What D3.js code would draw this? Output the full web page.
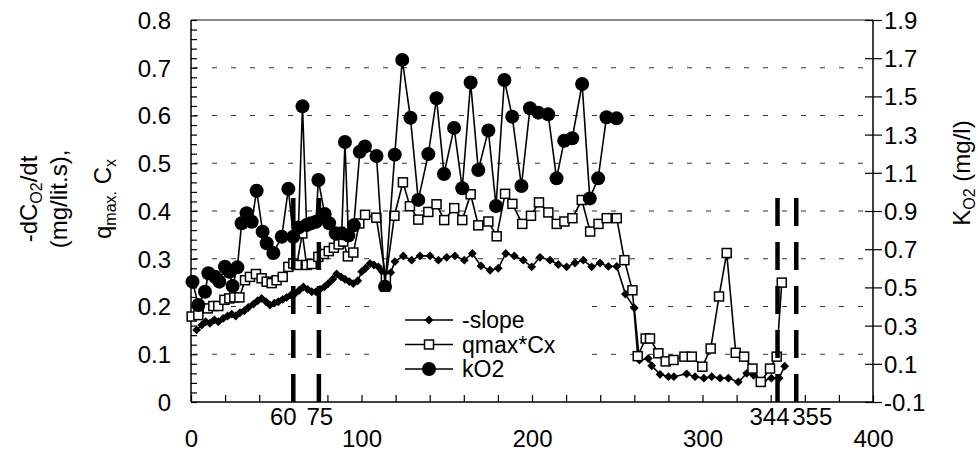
<!DOCTYPE html>
<html>
<head>
<meta charset="utf-8">
<script src="https://cdn.jsdelivr.net/npm/d3@7"></script>
<style>
  body { margin: 0; background: #fff; }
  svg { display: block; }
</style>
</head>
<body>
<div id="chart"></div>
<script>
// ---- data: [x, value] ----
const slopeData = [
  [3.3,.151],[6.3,.161],[8.6,.168],[11.1,.165],[13.7,.172],[16.0,.168],[18.9,.175],[21.5,.180],
  [23.9,.184],[26.2,.180],[28.7,.187],[31.3,.191],[33.6,.198],[36.6,.205],[39.1,.212],[41.4,.217],
  [44.0,.210],[46.3,.203],[48.9,.207],[51.2,.210],[53.8,.215],[56.1,.219],[58.6,.224],[61.0,.227],
  [63.5,.234],[65.9,.241],[68.4,.236],[70.8,.231],[73.3,.231],[75.7,.236],[78.2,.241],[80.5,.248],
  [83.1,.257],[85.4,.268],[88.0,.262],[90.3,.257],[92.9,.252],[95.2,.248],[97.8,.254],[100.1,.273],
  [102.4,.280],[105.0,.290],[107.3,.287],[109.9,.283],[112.2,.273],[114.6,.234],[117.1,.271],[119.6,.294],
  [124.5,.306],[129.4,.297],[134.3,.306],[140.2,.306],[145.1,.297],[150.0,.303],[154.8,.306],[160.3,.297],
  [165.0,.311],[170.1,.285],[175.4,.276],[180.2,.280],[184.6,.311],[189.6,.306],[194.9,.297],[199.8,.283],
  [204.7,.303],[210.6,.297],[215.4,.288],[220.3,.283],[225.2,.291],[230.1,.297],[235.0,.283],[239.9,.291],
  [244.8,.284],[249.7,.284],[254.8,.226],[260.0,.197],[263.0,.088],[268.2,.091],[270.2,.076],[275.1,.058],
  [280.0,.053],[283.2,.053],[290.7,.059],[295.6,.053],[300.8,.050],[305.4,.053],[310.3,.050],[315.2,.050],
  [321.0,.042],[325.9,.060],[330.0,.056],[335.2,.043],[340.4,.050],[344.9,.050],[348.2,.075]
];

const qmaxData = [
  [0.4,.179],[4.3,.182],[9.8,.196],[13.1,.201],[16.0,.201],[19.6,.214],[22.5,.217],[25.4,.219],
  [28.4,.219],[31.7,.255],[34.6,.262],[38.1,.268],[41.4,.259],[44.4,.252],[47.3,.249],[50.2,.255],
  [53.8,.262],[57.1,.283],[60.0,.290],[62.0,.287],[65.3,.353],[67.8,.287],[70.8,.289],[74.7,.304],
  [77.9,.310],[80.8,.316],[83.8,.323],[86.6,.330],[89.3,.336],[92.0,.305],[95.2,.313],[98.7,.374],
  [102.1,.392],[108.7,.386],[114.3,.259],[119.3,.390],[124.3,.460],[128.4,.410],[133.3,.382],[139.2,.398],
  [144.0,.414],[148.5,.381],[154.4,.406],[159.1,.381],[164.0,.435],[168.5,.370],[174.4,.378],[179.3,.347],
  [184.2,.436],[188.5,.415],[194.3,.373],[199.4,.390],[204.1,.418],[209.6,.397],[214.5,.373],[219.0,.378],
  [223.7,.385],[229.2,.423],[234.1,.357],[239.0,.373],[243.8,.385],[249.7,.385],[254.2,.297],[258.9,.234],
  [262.0,.096],[266.7,.133],[269.2,.133],[274.1,.102],[278.4,.085],[283.0,.088],[289.4,.095],[293.7,.095],
  [299.9,.074],[304.8,.112],[309.7,.221],[314.2,.312],[319.5,.103],[324.4,.095],[329.3,.070],[334.2,.042],
  [339.6,.070],[343.5,.095],[346.5,.250]
];

// kO2 is plotted against the right axis
const kO2Data = [
  [0.9,.530],[4.3,.408],[8.2,.477],[10.2,.574],[14.1,.556],[16.6,.530],[19.9,.608],[22.5,.582],
  [24.4,.507],[27.2,.605],[29.7,.836],[32.6,.888],[35.6,.844],[38.5,1.006],[42.0,.792],[44.4,.731],
  [48.3,.680],[53.2,.765],[57.1,1.016],[60.0,.765],[63.0,.814],[65.4,1.448],[67.8,.827],[70.4,.836],
  [73.3,.844],[74.7,1.062],[78.4,.884],[81.0,.836],[84.9,.783],[88.4,.783],[90.3,1.261],[92.3,.772],
  [95.5,.825],[99.0,1.210],[102.0,1.238],[108.8,1.188],[113.8,.504],[119.5,1.195],[123.9,1.691],[128.7,1.388],
  [133.3,.958],[139.2,1.198],[144.0,1.490],[148.4,1.094],[154.3,1.335],[159.1,1.019],[164.0,1.573],[168.5,1.115],
  [174.4,1.322],[178.9,.926],[183.8,1.586],[188.4,1.394],[193.8,1.031],[198.8,1.438],[203.7,1.415],[209.5,1.406],
  [214.4,1.071],[218.9,1.268],[223.6,1.281],[229.4,1.565],[233.9,.966],[238.8,1.071],[243.7,1.391],[249.6,1.385]
];

const xTicks = [0, 100, 200, 300, 400];
const leftTicks = [0, 0.1, 0.2, 0.3, 0.4, 0.5, 0.6, 0.7, 0.8];
const rightTicks = [-0.1, 0.1, 0.3, 0.5, 0.7, 0.9, 1.1, 1.3, 1.5, 1.7, 1.9];
const gridValues = [0.1, 0.2, 0.3, 0.4, 0.5, 0.6, 0.7];
const markerTimes = [60, 75, 344, 355];
const markerTop = 0.427; // top of the thick dashed lines, left-axis units
const legendNames = ['-slope', 'qmax*Cx', 'kO2'];

// ---- layout ----
const width = 978, height = 454;
const FONT = '"Liberation Sans", Arial, sans-serif';
const FS = 24;
const labelNudge = [-10, 1, -8, 16]; // marker label shifts, px

const svg = d3.select('#chart').append('svg')
  .attr('width', width)
  .attr('height', height)
  .attr('font-family', FONT);

const x = d3.scaleLinear().domain([0, 400]).range([191, 873]);
const yL = d3.scaleLinear().domain([0, 0.8]).range([402, 20]);
const yR = d3.scaleLinear().domain([-0.1, 1.9]).range([402, 20]);

// dashed grid lines
svg.append('g').selectAll('line')
  .data(gridValues)
  .join('line')
  .attr('x1', x(0) + 2).attr('x2', x(400) - 4)
  .attr('y1', d => yL(d)).attr('y2', d => yL(d))
  .attr('stroke', '#333').attr('stroke-width', 1)
  .attr('stroke-dasharray', '5,14');

// top border
svg.append('line')
  .attr('x1', x(0)).attr('x2', x(400))
  .attr('y1', yL(0.8)).attr('y2', yL(0.8))
  .attr('stroke', '#888').attr('stroke-width', 2);

// styling helper for axis groups
const styleAxis = g => g.attr('font-size', FS).attr('font-family', FONT)
  .call(g => g.select('.domain').remove())
  .call(g => g.selectAll('line').attr('stroke', '#000').attr('stroke-width', 1.2))
  .call(g => g.selectAll('text').attr('fill', '#000'));

// left axis: minor ticks inside + labels
svg.append('g').attr('transform', `translate(${x(0)},0)`)
  .call(d3.axisLeft(yL).tickValues(d3.range(41).map(i => i * 0.02)).tickSize(-6).tickFormat(''))
  .call(styleAxis);
svg.append('g').attr('transform', `translate(${x(0)},0)`)
  .call(d3.axisLeft(yL).tickValues(leftTicks).tickSize(0).tickPadding(20)
    .tickFormat(d => d === 0 ? '0' : d.toFixed(1)))
  .call(styleAxis)
  .selectAll('text').attr('dy', '0.35em');

// right axis: crossing ticks + labels
svg.append('g').attr('transform', `translate(${x(400)},0)`)
  .call(d3.axisRight(yR).tickValues(rightTicks).tickSize(9).tickFormat(''))
  .call(styleAxis);
svg.append('g').attr('transform', `translate(${x(400)},0)`)
  .call(d3.axisRight(yR).tickValues(rightTicks).tickSize(-8).tickFormat(''))
  .call(styleAxis);
svg.append('g').attr('transform', `translate(${x(400)},0)`)
  .call(d3.axisRight(yR).tickValues(rightTicks).tickSize(0).tickPadding(11)
    .tickFormat(d => d.toFixed(1)))
  .call(styleAxis)
  .selectAll('text').attr('dy', '0.35em');

// bottom axis: ticks every 20 inside, labels every 100
svg.append('g').attr('transform', `translate(0,${yL(0)})`)
  .call(d3.axisBottom(x).tickValues(d3.range(0, 401, 20)).tickSize(-7).tickFormat(''))
  .call(styleAxis);
svg.append('g').attr('transform', `translate(0,${yL(0)})`)
  .call(d3.axisBottom(x).tickValues(xTicks).tickSize(0).tickPadding(28).tickFormat(d3.format('d')))
  .call(styleAxis);

// axis lines
const axisLines = [
  [x(0), yL(0.8), x(0), yL(0)],
  [x(0), yL(0), x(400), yL(0)],
  [x(400), yL(0.8), x(400), yL(0)]
];
svg.append('g').selectAll('line')
  .data(axisLines)
  .join('line')
  .attr('x1', d => d[0]).attr('y1', d => d[1])
  .attr('x2', d => d[2]).attr('y2', d => d[3])
  .attr('stroke', '#000').attr('stroke-width', 1.5);

// ---- series ----
const lineL = d3.line().x(d => x(d[0])).y(d => yL(d[1]));
const lineR = d3.line().x(d => x(d[0])).y(d => yR(d[1]));

const diamond = d3.symbol().type(d3.symbolDiamond2).size(50);
const SQ = 9;   // square marker side
const CR = 7;   // circle marker radius

function drawSlope(g) {
  g.append('path').datum(slopeData)
    .attr('fill', 'none').attr('stroke', '#000').attr('stroke-width', 1.6)
    .attr('d', lineL);
  g.selectAll('path.pt').data(slopeData).join('path')
    .attr('class', 'pt')
    .attr('transform', d => `translate(${x(d[0])},${yL(d[1])})`)
    .attr('d', diamond).attr('fill', '#000');
}

function drawQmax(g) {
  g.append('path').datum(qmaxData)
    .attr('fill', 'none').attr('stroke', '#000').attr('stroke-width', 1.6)
    .attr('d', lineL);
  g.selectAll('rect').data(qmaxData).join('rect')
    .attr('x', d => x(d[0]) - SQ / 2).attr('y', d => yL(d[1]) - SQ / 2)
    .attr('width', SQ).attr('height', SQ)
    .attr('fill', '#fff').attr('stroke', '#000').attr('stroke-width', 1.5);
}

function drawKO2(g) {
  g.append('path').datum(kO2Data)
    .attr('fill', 'none').attr('stroke', '#000').attr('stroke-width', 1.6)
    .attr('d', lineR);
  g.selectAll('circle').data(kO2Data).join('circle')
    .attr('cx', d => x(d[0])).attr('cy', d => yR(d[1]))
    .attr('r', CR).attr('fill', '#000');
}

drawSlope(svg.append('g'));
drawQmax(svg.append('g'));
drawKO2(svg.append('g'));

// thick dashed marker lines
svg.append('g').selectAll('line')
  .data(markerTimes)
  .join('line')
  .attr('x1', d => x(d)).attr('x2', d => x(d))
  .attr('y1', yL(markerTop)).attr('y2', yL(0))
  .attr('stroke', '#000').attr('stroke-width', 4.5)
  .attr('stroke-dasharray', '28,16');

svg.append('g').selectAll('text')
  .data(markerTimes)
  .join('text')
  .attr('x', (d, i) => x(d) + labelNudge[i])
  .attr('y', yL(0) + 23)
  .attr('text-anchor', 'middle')
  .attr('font-size', FS)
  .text(d => d);

// ---- legend ----
const legend = svg.append('g');
legend.append('rect')
  .attr('x', 375).attr('y', 292).attr('width', 208).attr('height', 97)
  .attr('fill', '#fff');

const rows = legend.selectAll('g.row')
  .data(legendNames)
  .join('g')
  .attr('class', 'row')
  .attr('transform', (d, i) => `translate(405,${320 + i * 24.5})`);

rows.append('line')
  .attr('x1', 0).attr('x2', 48)
  .attr('stroke', '#000').attr('stroke-width', 1.6);

rows.each(function (d, i) {
  const r = d3.select(this);
  if (i === 0) {
    r.append('path').attr('transform', 'translate(24,0)').attr('d', diamond).attr('fill', '#000');
  } else if (i === 1) {
    r.append('rect').attr('x', 24 - SQ / 2).attr('y', -SQ / 2).attr('width', SQ).attr('height', SQ)
      .attr('fill', '#fff').attr('stroke', '#000').attr('stroke-width', 1.5);
  } else {
    r.append('circle').attr('cx', 24).attr('r', CR).attr('fill', '#000');
  }
});

rows.append('text')
  .attr('x', 57).attr('dy', '0.35em')
  .attr('font-size', 23)
  .text(d => d);

// ---- axis titles ----
const leftTitle = svg.append('g')
  .attr('font-size', FS)
  .attr('text-anchor', 'middle');

const t1 = leftTitle.append('text').attr('transform', 'translate(37,199) rotate(-90)');
t1.append('tspan').text('-dC');
t1.append('tspan').attr('font-size', 16).attr('dy', 5).text('O2');
t1.append('tspan').attr('dy', -5).text('/dt');

leftTitle.append('text').attr('transform', 'translate(67,199) rotate(-90)')
  .text('(mg/lit.s),');

const t3 = leftTitle.append('text').attr('transform', 'translate(111,199) rotate(-90)');
t3.append('tspan').text('q');
t3.append('tspan').attr('font-size', 16).attr('dy', 5).text('max.');
t3.append('tspan').attr('dy', -5).text(' C');
t3.append('tspan').attr('font-size', 16).attr('dy', 5).text('x');

const rt = svg.append('text')
  .attr('transform', 'translate(970,173) rotate(-90)')
  .attr('font-size', FS)
  .attr('text-anchor', 'middle');
rt.append('tspan').text('K');
rt.append('tspan').attr('font-size', 16).attr('dy', 5).text('O2');
rt.append('tspan').attr('dy', -5).text(' (mg/l)');
</script>
</body>
</html>
